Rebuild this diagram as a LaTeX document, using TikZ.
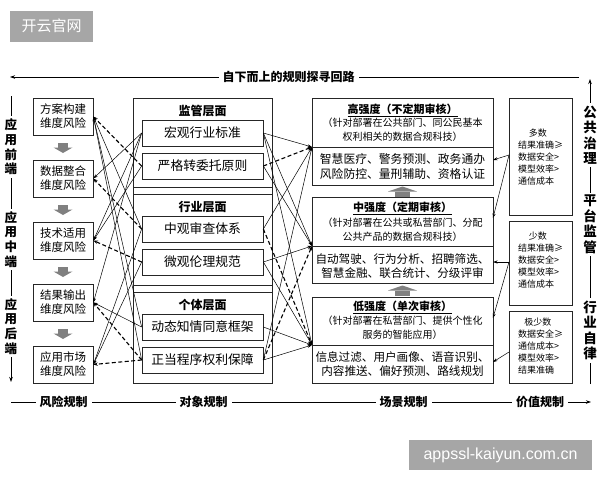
\documentclass[tikz,border=0pt]{standalone}
\usepackage{fontspec}
\setmainfont{Noto Sans CJK SC}
\newfontfamily\wmfont{Liberation Sans}
\usetikzlibrary{arrows.meta}
\begin{document}
\begin{tikzpicture}[x=1pt,y=-1pt,
  frame/.style={draw=black!85, line width=0.7pt},
  lbox/.style={frame, minimum width=60pt, minimum height=37pt, inner sep=0pt, align=center, font=\fontsize{11.5}{14}\selectfont},
  mbox/.style={frame, minimum width=121pt, minimum height=26pt, inner sep=0pt, font=\fontsize{12.8}{14}\selectfont},
  gtitle/.style={inner sep=0pt, font=\bfseries\fontsize{12}{14}\selectfont},
  vlab/.style={fill=white, inner sep=2.5pt, align=center, font=\bfseries\fontsize{12.5}{14.7}\selectfont},
  rlab/.style={fill=white, inner sep=2.5pt, align=center, font=\bfseries\fontsize{13.5}{15.5}\selectfont},
  hlab/.style={fill=white, inner sep=4pt, font=\bfseries\fontsize{12}{14}\selectfont},
  loop/.style={line width=0.8pt, -{Stealth[length=5pt,width=3.5pt]}},
  sol/.style={line width=0.5pt, -{Stealth[length=4.5pt,width=3pt]}},
  dsh/.style={line width=1.1pt, dash pattern=on 4pt off 2.5pt, -{Stealth[length=4.5pt,width=3.5pt]}},
  garrow/.style={fill=black!50, draw=none},
  wmark/.style={fill=black!35, text=white, inner sep=0pt}
]
\useasboundingbox (0,0) rectangle (600,480);

% watermarks
\node[wmark, minimum width=83pt, minimum height=31pt, font=\fontsize{15}{16}\selectfont] (wm1) at (51.5,26) {开云官网};
\node[wmark, minimum width=183pt, minimum height=30pt, font=\wmfont\fontsize{16}{18}\selectfont] (wm2) at (500.5,455) {appssl-kaiyun.com.cn};

% loop lines
\coordinate (tr) at (579,77); \coordinate (tl) at (10,77);
\draw[loop] (tr) -- (tl);
\node[hlab] (ttl) at (288.5,77) {自下而上的规则探寻回路};
\coordinate (lt) at (11,96); \coordinate (lb) at (11,382);
\draw[loop] (lt) -- (lb);
\node[vlab] (la1) at (11,147) {应\\用\\前\\端};
\node[vlab] (la2) at (11,239.5) {应\\用\\中\\端};
\node[vlab] (la3) at (11,326.5) {应\\用\\后\\端};
\coordinate (bl) at (11,402); \coordinate (br) at (591,402);
\draw[loop] (bl) -- (br);
\node[hlab] (b1) at (63.5,402) {风险规制};
\node[hlab] (b2) at (203.5,402) {对象规制};
\node[hlab] (b3) at (403.5,402) {场景规制};
\node[hlab] (b4) at (540,402) {价值规制};
\coordinate (rb) at (590,384); \coordinate (rt) at (590,79);
\draw[loop] (rb) -- (rt);
\node[rlab] (ra1) at (590,135) {公\\共\\治\\理};
\node[rlab] (ra2) at (590,224.5) {平\\台\\监\\管};
\node[rlab] (ra3) at (590,330.5) {行\\业\\自\\律};

% left column
\node[lbox] (r1) at (63,116.5) {方案构建\\维度风险};
\node[lbox] (r2) at (63,178.5) {数据整合\\维度风险};
\node[lbox] (r3) at (63,240.5) {技术适用\\维度风险};
\node[lbox] (r4) at (63,302.5) {结果输出\\维度风险};
\node[lbox] (r5) at (63,364.5) {应用市场\\维度风险};
\foreach \y in {147.5,209.5,271.5,333.5}{
  \fill[garrow] (58,\y-5) rectangle (68,\y+0.5);
  \fill[garrow] (53.5,\y) -- (72.5,\y) -- (63,\y+5.5) -- cycle;
}

% middle column
\draw[frame] (133,98) rectangle (272,383);
\draw[frame] (133,98) rectangle (272,187);
\draw[frame] (133,194) rectangle (272,285);
\draw[frame] (133,292) rectangle (272,383);
\node[gtitle] (g1) at (202.5,111) {监管层面};
\node[gtitle] (g2) at (202.5,207) {行业层面};
\node[gtitle] (g3) at (202.5,305) {个体层面};
\node[mbox] (m1) at (202.5,133) {宏观行业标准};
\node[mbox] (m2) at (202.5,166) {严格转委托原则};
\node[mbox] (m3) at (202.5,229) {中观审查体系};
\node[mbox] (m4) at (202.5,262) {微观伦理规范};
\node[mbox] (m5) at (202.5,327) {动态知情同意框架};
\node[mbox] (m6) at (202.5,360) {正当程序权利保障};

% scenario column
\draw[frame] (312,98) rectangle (493,185); \draw[frame] (312,147) -- (493,147);
\draw[frame] (312,197) rectangle (493,283); \draw[frame] (312,246) -- (493,246);
\draw[frame] (312,297) rectangle (493,383); \draw[frame] (312,345) -- (493,345);
\coordinate (s1) at (312,147); \coordinate (s2) at (312,246); \coordinate (s3) at (312,345);
\node[inner sep=0pt, font=\bfseries\fontsize{11}{13}\selectfont] (t1) at (402.5,110) {\underline{高强度（不定期审核）}};
\node[inner sep=0pt, align=center, font=\fontsize{10}{14}\selectfont] (u1) at (402.5,130) {（针对部署在公共部门、同公民基本\\权利相关的数据合规科技）};
\node[inner sep=0pt, align=center, font=\fontsize{11.8}{15}\selectfont] (e1) at (402.5,166) {智慧医疗、警务预测、政务通办\\风险防控、量刑辅助、资格认证};
\node[inner sep=0pt, font=\bfseries\fontsize{11}{13}\selectfont] (t2) at (402.5,208) {\underline{中强度（定期审核）}};
\node[inner sep=0pt, align=center, font=\fontsize{10}{13.5}\selectfont] (u2) at (402.5,229.5) {（针对部署在公共或私营部门、分配\\公共产品的数据合规科技）};
\node[inner sep=0pt, align=center, font=\fontsize{11.6}{14}\selectfont] (e2) at (402.5,266.5) {自动驾驶、行为分析、招聘筛选、\\智慧金融、联合统计、分级评审};
\node[inner sep=0pt, font=\bfseries\fontsize{11}{13}\selectfont] (t3) at (402.5,307) {\underline{低强度（单次审核）}};
\node[inner sep=0pt, align=center, font=\fontsize{10}{13.5}\selectfont] (u3) at (402.5,327.5) {（针对部署在私营部门、提供个性化\\服务的智能应用）};
\node[inner sep=0pt, align=center, font=\fontsize{11.6}{14}\selectfont] (e3) at (402.5,364) {信息过滤、用户画像、语音识别、\\内容推送、偏好预测、路线规划};
\foreach \y in {186.5,285.5}{
  \fill[garrow] (388,\y+5) -- (417,\y+5) -- (402.5,\y) -- cycle;
  \fill[garrow] (395,\y+5) rectangle (410,\y+10);
}

% value column
\node[frame, minimum width=63pt, minimum height=117pt, inner sep=0pt] (v1) at (540.5,156.5) {};
\node[frame, minimum width=63pt, minimum height=84pt, inner sep=0pt] (v2) at (540.5,263) {};
\node[frame, minimum width=63pt, minimum height=72pt, inner sep=0pt] (v3) at (540.5,347) {};
\node[inner sep=0pt, align=left, font=\fontsize{9}{12}\selectfont] (vt1) at (540.5,157) {\hspace{1.2em}多数\\结果准确≥\\数据安全>\\模型效率>\\通信成本};
\node[inner sep=0pt, align=left, font=\fontsize{9}{12}\selectfont] (vt2) at (540.5,260) {\hspace{1.2em}少数\\结果准确≥\\数据安全>\\模型效率>\\通信成本};
\node[inner sep=0pt, align=left, font=\fontsize{9}{12}\selectfont] (vt3) at (540.5,346) {\hspace{0.7em}极少数\\数据安全≥\\通信成本>\\模型效率>\\结果准确};
\coordinate (v1p) at (509,155); \coordinate (v2p) at (509,262); \coordinate (v3p) at (509,352);
\coordinate (h1) at (493,160); \coordinate (h2a) at (493,218); \coordinate (h2b) at (493,262);
\coordinate (h3a) at (493,318); \coordinate (h3b) at (493,362);
\draw[sol] (v1p) -- (h1); \draw[sol] (v1p) -- (h2a);
\draw[sol] (v2p) -- (h2b); \draw[sol] (v2p) -- (h3a);
\draw[sol] (v3p) -- (h3b);

% left-middle connectors (arrows into risk boxes)
\draw[dsh] (m2.west) -- (r1.east);
\draw[dsh] (m3.west) -- (r2.east);
\draw[dsh] (m4.west) -- (r3.east);
\draw[dsh] (m6.west) -- (r4.east);
\draw[dsh] (m6.west) -- (r5.east);
\draw[sol] (m1.west) -- (r2.east);
\draw[sol] (m1.west) -- (r3.east);
\draw[sol] (m1.west) -- (r4.east);
\draw[sol] (m3.west) -- (r1.east);
\draw[sol] (m5.west) -- (r1.east);
\draw[sol] (m6.west) -- (r1.east);
\draw[sol] (m2.west) -- (r3.east);
\draw[sol] (m5.west) -- (r4.east);
\draw[sol] (m3.west) -- (r5.east);
\draw[sol] (m4.west) -- (r5.east);

% middle-scenario connectors
\draw[sol] (m1.east) -- (s1);
\draw[dsh] (m2.east) -- (s1);
\draw[sol] (m3.east) -- (s1);
\draw[sol] (m1.east) -- (s2);
\draw[sol] (m1.east) -- (s3);
\draw[sol] (m4.east) -- (s2);
\draw[sol] (m4.east) -- (s3);
\draw[dsh] (m3.east) -- (s3);
\draw[sol] (m5.east) -- (s3);
\draw[sol] (m6.east) -- (s3);
\draw[dsh] (m6.east) -- (s2);
\draw[sol] (m6.east) -- (s1);
\draw[sol] (m2.east) -- (s2);
\end{tikzpicture}
\end{document}
